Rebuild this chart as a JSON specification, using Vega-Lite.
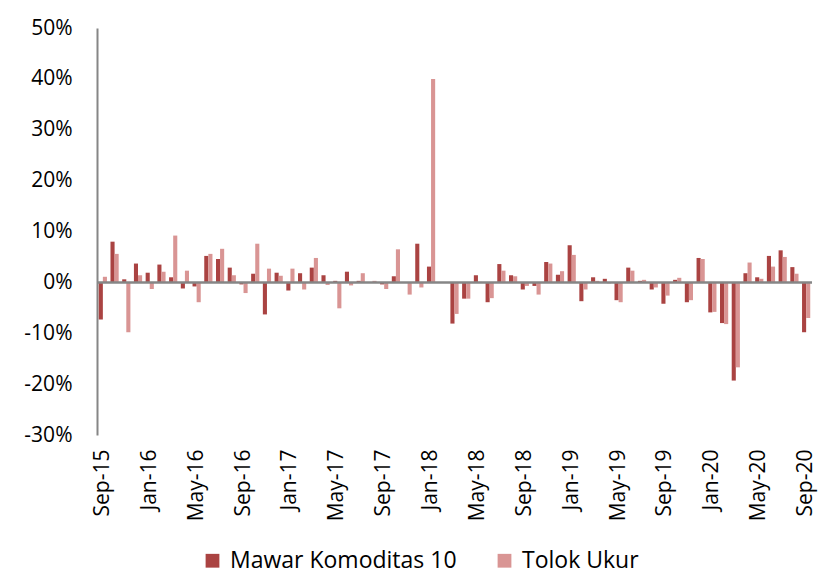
{
  "$schema": "https://vega.github.io/schema/vega-lite/v6.json",
  "width": 715,
  "height": 407,
  "autosize": "none",
  "padding": {"left": 97, "top": 28, "right": 19, "bottom": 141},
  "background": "white",
  "config": {
    "font": "Open Sans",
    "view": {"stroke": null}
  },
  "data": {
    "values": [
      {"m": "Sep-15", "Mawar Komoditas 10": -0.073, "Tolok Ukur": 0.011},
      {"m": "Oct-15", "Mawar Komoditas 10": 0.080, "Tolok Ukur": 0.056},
      {"m": "Nov-15", "Mawar Komoditas 10": 0.006, "Tolok Ukur": -0.098},
      {"m": "Dec-15", "Mawar Komoditas 10": 0.037, "Tolok Ukur": 0.014},
      {"m": "Jan-16", "Mawar Komoditas 10": 0.019, "Tolok Ukur": -0.013},
      {"m": "Feb-16", "Mawar Komoditas 10": 0.035, "Tolok Ukur": 0.021},
      {"m": "Mar-16", "Mawar Komoditas 10": 0.010, "Tolok Ukur": 0.092},
      {"m": "Apr-16", "Mawar Komoditas 10": -0.012, "Tolok Ukur": 0.023},
      {"m": "May-16", "Mawar Komoditas 10": -0.008, "Tolok Ukur": -0.039},
      {"m": "Jun-16", "Mawar Komoditas 10": 0.052, "Tolok Ukur": 0.056},
      {"m": "Jul-16", "Mawar Komoditas 10": 0.046, "Tolok Ukur": 0.066},
      {"m": "Aug-16", "Mawar Komoditas 10": 0.029, "Tolok Ukur": 0.014},
      {"m": "Sep-16", "Mawar Komoditas 10": -0.004, "Tolok Ukur": -0.021},
      {"m": "Oct-16", "Mawar Komoditas 10": 0.017, "Tolok Ukur": 0.076},
      {"m": "Nov-16", "Mawar Komoditas 10": -0.063, "Tolok Ukur": 0.027},
      {"m": "Dec-16", "Mawar Komoditas 10": 0.019, "Tolok Ukur": 0.013},
      {"m": "Jan-17", "Mawar Komoditas 10": -0.016, "Tolok Ukur": 0.027},
      {"m": "Feb-17", "Mawar Komoditas 10": 0.018, "Tolok Ukur": -0.014},
      {"m": "Mar-17", "Mawar Komoditas 10": 0.029, "Tolok Ukur": 0.048},
      {"m": "Apr-17", "Mawar Komoditas 10": 0.014, "Tolok Ukur": -0.005},
      {"m": "May-17", "Mawar Komoditas 10": 0.003, "Tolok Ukur": -0.051},
      {"m": "Jun-17", "Mawar Komoditas 10": 0.021, "Tolok Ukur": -0.006},
      {"m": "Jul-17", "Mawar Komoditas 10": 0.003, "Tolok Ukur": 0.018},
      {"m": "Aug-17", "Mawar Komoditas 10": 0.000, "Tolok Ukur": 0.003},
      {"m": "Sep-17", "Mawar Komoditas 10": -0.004, "Tolok Ukur": -0.013},
      {"m": "Oct-17", "Mawar Komoditas 10": 0.012, "Tolok Ukur": 0.065},
      {"m": "Nov-17", "Mawar Komoditas 10": 0.000, "Tolok Ukur": -0.024},
      {"m": "Dec-17", "Mawar Komoditas 10": 0.076, "Tolok Ukur": -0.010},
      {"m": "Jan-18", "Mawar Komoditas 10": 0.031, "Tolok Ukur": 0.400},
      {"m": "Feb-18", "Mawar Komoditas 10": 0.000, "Tolok Ukur": 0.000},
      {"m": "Mar-18", "Mawar Komoditas 10": -0.081, "Tolok Ukur": -0.062},
      {"m": "Apr-18", "Mawar Komoditas 10": -0.032, "Tolok Ukur": -0.032},
      {"m": "May-18", "Mawar Komoditas 10": 0.014, "Tolok Ukur": 0.001},
      {"m": "Jun-18", "Mawar Komoditas 10": -0.039, "Tolok Ukur": -0.031},
      {"m": "Jul-18", "Mawar Komoditas 10": 0.036, "Tolok Ukur": 0.023},
      {"m": "Aug-18", "Mawar Komoditas 10": 0.014, "Tolok Ukur": 0.012},
      {"m": "Sep-18", "Mawar Komoditas 10": -0.014, "Tolok Ukur": -0.007},
      {"m": "Oct-18", "Mawar Komoditas 10": -0.007, "Tolok Ukur": -0.024},
      {"m": "Nov-18", "Mawar Komoditas 10": 0.040, "Tolok Ukur": 0.037},
      {"m": "Dec-18", "Mawar Komoditas 10": 0.015, "Tolok Ukur": 0.022},
      {"m": "Jan-19", "Mawar Komoditas 10": 0.073, "Tolok Ukur": 0.054},
      {"m": "Feb-19", "Mawar Komoditas 10": -0.037, "Tolok Ukur": -0.014},
      {"m": "Mar-19", "Mawar Komoditas 10": 0.010, "Tolok Ukur": 0.003},
      {"m": "Apr-19", "Mawar Komoditas 10": 0.007, "Tolok Ukur": -0.002},
      {"m": "May-19", "Mawar Komoditas 10": -0.035, "Tolok Ukur": -0.039},
      {"m": "Jun-19", "Mawar Komoditas 10": 0.029, "Tolok Ukur": 0.023},
      {"m": "Jul-19", "Mawar Komoditas 10": 0.003, "Tolok Ukur": 0.005},
      {"m": "Aug-19", "Mawar Komoditas 10": -0.014, "Tolok Ukur": -0.010},
      {"m": "Sep-19", "Mawar Komoditas 10": -0.042, "Tolok Ukur": -0.026},
      {"m": "Oct-19", "Mawar Komoditas 10": 0.005, "Tolok Ukur": 0.009},
      {"m": "Nov-19", "Mawar Komoditas 10": -0.039, "Tolok Ukur": -0.035},
      {"m": "Dec-19", "Mawar Komoditas 10": 0.048, "Tolok Ukur": 0.046},
      {"m": "Jan-20", "Mawar Komoditas 10": -0.059, "Tolok Ukur": -0.058},
      {"m": "Feb-20", "Mawar Komoditas 10": -0.080, "Tolok Ukur": -0.082},
      {"m": "Mar-20", "Mawar Komoditas 10": -0.193, "Tolok Ukur": -0.167},
      {"m": "Apr-20", "Mawar Komoditas 10": 0.018, "Tolok Ukur": 0.039},
      {"m": "May-20", "Mawar Komoditas 10": 0.010, "Tolok Ukur": 0.007},
      {"m": "Jun-20", "Mawar Komoditas 10": 0.052, "Tolok Ukur": 0.031},
      {"m": "Jul-20", "Mawar Komoditas 10": 0.063, "Tolok Ukur": 0.050},
      {"m": "Aug-20", "Mawar Komoditas 10": 0.030, "Tolok Ukur": 0.017},
      {"m": "Sep-20", "Mawar Komoditas 10": -0.098, "Tolok Ukur": -0.070}
    ]
  },
  "layer": [
    {
      "transform": [{"fold": ["Mawar Komoditas 10", "Tolok Ukur"], "as": ["series", "value"]}],
      "mark": {"type": "bar"},
      "encoding": {
        "x": {
          "field": "m",
          "type": "ordinal",
          "sort": null,
          "scale": {"paddingInner": 0.3, "paddingOuter": 0.15},
          "axis": {
            "title": null,
            "values": ["Sep-15", "Jan-16", "May-16", "Sep-16", "Jan-17", "May-17", "Sep-17", "Jan-18", "May-18", "Sep-18", "Jan-19", "May-19", "Sep-19", "Jan-20", "May-20", "Sep-20"],
            "labelAngle": -90,
            "labelFontSize": 21,
            "labelColor": "#000000",
            "labelPadding": 14,
            "domain": false,
            "ticks": false,
            "labelOverlap": false
          }
        },
        "xOffset": {"field": "series", "type": "nominal", "sort": ["Mawar Komoditas 10", "Tolok Ukur"]},
        "y": {
          "field": "value",
          "type": "quantitative",
          "scale": {"domain": [-0.3, 0.5], "nice": false, "zero": true},
          "axis": {
            "title": null,
            "values": [-0.3, -0.2, -0.1, 0, 0.1, 0.2, 0.3, 0.4, 0.5],
            "labelExpr": "replace(format(datum.value, '.0%'), '−', '-')",
            "grid": false,
            "ticks": false,
            "labelPadding": 25,
            "labelFontSize": 21,
            "labelColor": "#000000",
            "domainColor": "#868686",
            "domainWidth": 2
          }
        },
        "color": {
          "field": "series",
          "type": "nominal",
          "scale": {"domain": ["Mawar Komoditas 10", "Tolok Ukur"], "range": ["#AA4342", "#D99594"]},
          "legend": {
            "title": null,
            "orient": "none",
            "direction": "horizontal",
            "legendX": 104,
            "legendY": 521,
            "symbolType": "square",
            "symbolSize": 190,
            "symbolStrokeWidth": 0,
            "labelFontSize": 23,
            "labelLimit": 0,
            "labelColor": "#000000",
            "columnPadding": 36,
            "labelOffset": 6
          }
        }
      }
    },
    {
      "data": {"values": [{"z": 0}]},
      "mark": {"type": "rule", "color": "#868686", "strokeWidth": 2.5},
      "encoding": {"y": {"field": "z", "type": "quantitative"}}
    }
  ]
}
